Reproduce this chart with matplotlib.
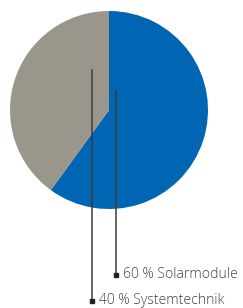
import matplotlib
matplotlib.use("Agg")
import matplotlib.pyplot as plt

labels = ["60 % Solarmodule", "40 % Systemtechnik"]
shares = [60, 40]
colors = ["#0066b3", "#9b968c"]

W, H = 243, 308
fig = plt.figure(figsize=(W / 100, H / 100), dpi=100)
ax = fig.add_axes([0, 0, 1, 1])

cx, cy, r = 109, H - 110, 99
ax.pie(shares, colors=colors, startangle=90, counterclock=False,
       center=(cx, cy), radius=r, frame=True,
       wedgeprops=dict(linewidth=0))
ax.set_xlim(0, W)
ax.set_ylim(0, H)
ax.set_aspect("equal")
ax.axis("off")

# leader lines: (x, top y, label y, text x) in pixel coords
leaders = [(116, 91, 275, 123), (92, 70, 301, 99)]
for (x, y0, y1, tx), lab in zip(leaders, labels):
    ax.plot([x, x], [H - y0, H - y1], color="#3a3a3a", lw=1.1)
    ax.plot([x], [H - y1], marker="s", ms=3.2, color="#222222")
    ax.text(tx, H - y1, lab, fontsize=10.1, family="Open Sans",
            fontweight="light", color="#444444", va="center", ha="left")

fig.savefig("out.png", dpi=100)
